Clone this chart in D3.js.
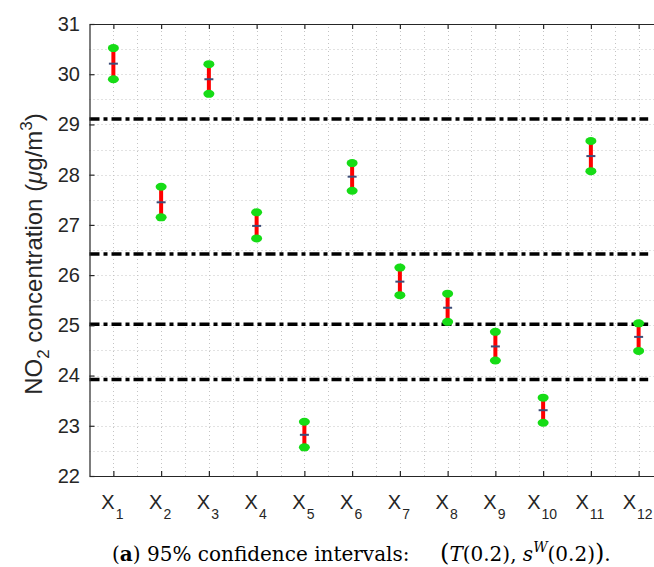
<!DOCTYPE html>
<html>
<head>
<meta charset="utf-8">
<script src="https://cdn.jsdelivr.net/npm/d3@7"></script>
<style>
  html, body { margin: 0; padding: 0; background: #fff; }
  svg { display: block; }
</style>
</head>
<body>
<svg id="chart" width="654" height="567"></svg>
<script>
// Sites X1..X12 and their 95% confidence intervals of NO2 concentration
const categories = ["1", "2", "3", "4", "5", "6", "7", "8", "9", "10", "11", "12"];
const means  = [30.21, 27.45, 29.90, 26.98, 22.82, 27.96, 25.87, 25.35, 24.58, 23.31, 28.37, 24.77];
const lower  = [29.90, 27.15, 29.61, 26.73, 22.57, 27.68, 25.60, 25.07, 24.30, 23.06, 28.07, 24.49];
const upper  = [30.52, 27.76, 30.20, 27.25, 23.08, 28.23, 26.15, 25.63, 24.87, 23.56, 28.67, 25.04];
// Horizontal dash-dot separators between groups
const thresholds = [29.11, 26.42, 25.02, 23.92];
const yTicks = [22, 23, 24, 25, 26, 27, 28, 29, 30, 31];

const svg = d3.select("#chart");
const axisColor = "#262626";
const tickFont = "'Liberation Sans', Arial, sans-serif";

const x = d3.scaleLinear().domain([0.5, 12.5]).range([89.5, 662.5]);
const y = d3.scaleLinear().domain([22, 31]).range([476, 24]);

const plot = svg.append("g");

// dotted grid (major + minor, every half unit)
const grid = plot.append("g").attr("stroke", "#c4c4c4").attr("stroke-width", 1)
  .attr("stroke-dasharray", "1,3");
grid.selectAll("line.h").data(d3.range(22.5, 31, 0.5)).join("line")
  .attr("x1", x(0.5)).attr("x2", x(12.5))
  .attr("y1", d => Math.round(y(d)) + 0.5).attr("y2", d => Math.round(y(d)) + 0.5);
grid.selectAll("line.v").data(d3.range(1, 12.51, 0.5)).join("line")
  .attr("y1", y(22)).attr("y2", y(31))
  .attr("x1", d => Math.round(x(d)) + 0.5).attr("x2", d => Math.round(x(d)) + 0.5);

// threshold lines
plot.append("g").selectAll("line").data(thresholds).join("line")
  .attr("x1", x(0.5)).attr("x2", x(12.2))
  .attr("y1", d => y(d)).attr("y2", d => y(d))
  .attr("stroke", "#000").attr("stroke-width", 3.5)
  .attr("stroke-dasharray", "10,4,4,4");

// axes
const yAxis = d3.axisLeft(y).tickValues(yTicks).tickSize(-5).tickSizeOuter(0).tickPadding(9.5)
  .tickFormat(d3.format("d"));
const gy = svg.append("g").attr("transform", `translate(${x(0.5)},0)`).call(yAxis);
gy.selectAll("text").attr("font-family", tickFont).attr("font-size", 20).attr("fill", axisColor);

const xAxisB = d3.axisBottom(x).tickValues(d3.range(1, 13)).tickSize(-5).tickSizeOuter(0).tickFormat("");
const gxb = svg.append("g").attr("transform", `translate(0,${y(22)})`).call(xAxisB);
const xAxisT = d3.axisTop(x).tickValues(d3.range(1, 13)).tickSize(-5).tickSizeOuter(0).tickFormat("");
const gxt = svg.append("g").attr("transform", `translate(0,${y(31)})`).call(xAxisT);
[gy, gxb, gxt].forEach(g => {
  g.selectAll("path.domain").attr("stroke", axisColor).attr("stroke-width", 1.2);
  g.selectAll(".tick line").attr("stroke", axisColor).attr("stroke-width", 1.2);
});

// category labels X with subscripts
const xl = svg.append("g").selectAll("text").data(categories).join("text")
  .attr("x", (d, i) => x(i + 1) - 1)
  .attr("y", 508.5)
  .attr("text-anchor", "middle")
  .attr("font-family", tickFont).attr("fill", axisColor).attr("font-size", 20);
xl.append("tspan").text("X");
xl.append("tspan").attr("font-size", 14).attr("dy", 10).attr("dx", 1).text(d => d);

// y-axis title
const yt = svg.append("text")
  .attr("transform", "translate(42,254) rotate(-90)")
  .attr("text-anchor", "middle")
  .attr("font-family", tickFont).attr("font-size", 24).attr("fill", axisColor);
yt.append("tspan").text("NO");
yt.append("tspan").attr("font-size", 17).attr("dy", 7).text("2");
yt.append("tspan").attr("dy", -7).text(" concentration (");
yt.append("tspan").attr("font-style", "italic").text("\u03bc");
yt.append("tspan").text("g/m");
yt.append("tspan").attr("font-size", 17).attr("dy", -10).text("3");
yt.append("tspan").attr("dy", 10).text(")");

// confidence intervals
const bars = plot.append("g").selectAll("g").data(categories).join("g");
bars.append("line")
  .attr("x1", (d, i) => x(i + 1)).attr("x2", (d, i) => x(i + 1))
  .attr("y1", (d, i) => y(lower[i])).attr("y2", (d, i) => y(upper[i]))
  .attr("stroke", "#ff0000").attr("stroke-width", 4);
bars.append("line")
  .attr("x1", (d, i) => x(i + 1) - 4.5).attr("x2", (d, i) => x(i + 1) + 4.5)
  .attr("y1", (d, i) => y(means[i])).attr("y2", (d, i) => y(means[i]))
  .attr("stroke", "#3d4d78").attr("stroke-width", 2);
bars.append("ellipse")
  .attr("cx", (d, i) => x(i + 1)).attr("cy", (d, i) => y(upper[i]))
  .attr("rx", 5.5).attr("ry", 4).attr("fill", "#16dc16");
bars.append("ellipse")
  .attr("cx", (d, i) => x(i + 1)).attr("cy", (d, i) => y(lower[i]))
  .attr("rx", 5.5).attr("ry", 4).attr("fill", "#16dc16");

// caption: text part and formula part
const serif = "'DejaVu Serif', 'Liberation Serif', serif";
const capY = 561;
const cap = svg.append("text").attr("x", 112).attr("y", capY)
  .attr("font-family", serif).attr("font-size", 20).attr("fill", "#000");
cap.append("tspan").text("(");
cap.append("tspan").attr("font-weight", "bold").text("a");
cap.append("tspan").text(") 95% confidence intervals:");

const eq = svg.append("text").attr("x", 440).attr("y", capY)
  .attr("font-family", serif).attr("font-size", 20).attr("fill", "#000");
eq.append("tspan").attr("font-size", 24).text("(");
eq.append("tspan").attr("font-style", "italic").text("T");
eq.append("tspan").text("(0.2), ");
eq.append("tspan").attr("font-style", "italic").text("s");
eq.append("tspan").attr("font-style", "italic").attr("font-size", 14).attr("dy", -9).text("W");
eq.append("tspan").attr("dy", 9).text("(0.2)");
eq.append("tspan").attr("font-size", 24).text(")");
eq.append("tspan").text(".");
</script>
</body>
</html>
